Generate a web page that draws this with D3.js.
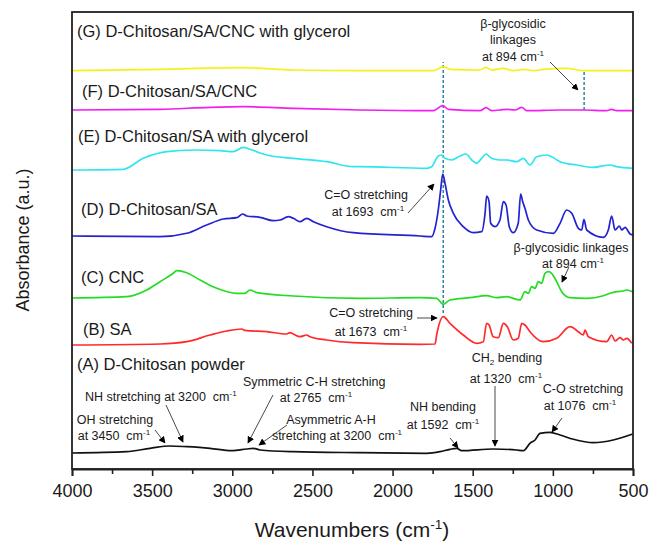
<!DOCTYPE html>
<html>
<head>
<meta charset="utf-8">
<script src="https://cdn.jsdelivr.net/npm/d3@7"></script>
<style>
  body { margin: 0; background: #fff; }
  text { font-family: "Liberation Sans", Arial, sans-serif; fill: #1a1a1a; white-space: pre; }
</style>
</head>
<body>
<div id="chart"></div>
<script>
// series, bottom to top
const seriesNames = ['(A) D-Chitosan powder', '(B) SA', '(C) CNC', '(D) D-Chitosan/SA',
  '(E) D-Chitosan/SA with glycerol', '(F) D-Chitosan/SA/CNC', '(G) D-Chitosan/SA/CNC with glycerol'];
const seriesOffsets = [16, 124, 171, 233, 299, 359, 398];

// [wavenumber, absorbance] pairs (a.u., relative to each offset)
const spectrumA = [[4000,0],[3659,1.3],[3513,4.7],[3389,7],[3284,6.3],[3139,4.7],[3004,2.3],[2910,4],[2869,4.7],
  [2827,3],[2621,1.3],[2203,0.3],[1787,-0.3],[1704,1.3],[1642,3.7],[1600,4.7],[1569,2.3],[1372,4],[1226,3],
  [1184,2.3],[1143,9.7],[1111,13],[1080,19.7],[1018,20.7],[955,18],[872,13.7],[748,10.3],[623,13],[502,19]];
const spectrumB = [[4000,0],[3451,1],[3284,3.3],[3139,10],[3035,14],[2941,16],[2921,14.7],[2785,13.3],[2661,11],
  [2640,12.3],[2619,11],[2578,8.3],[2536,10],[2515,8.3],[2411,5],[2245,2.3],[1829,0.7],[1735,1],[1725,10],
  [1684,28.3],[1642,21.7],[1559,10],[1475,1.7],[1434,3.3],[1413,21.7],[1398,20],[1372,8.3],[1340,7.3],
  [1309,21.7],[1284,18.3],[1247,5],[1216,6.7],[1194,21.7],[1174,20],[1143,13.3],[1060,3.3],[976,6.7],
  [893,18.3],[841,13.3],[810,10],[799,15],[779,8.3],[664,3.3],[633,10],[612,4],[581,7.3],[560,5],[539,6.7],[508,1.7]];
const spectrumC = [[4000,0],[3659,1.3],[3534,8],[3451,16.3],[3368,24.7],[3347,27.3],[3284,25.3],[3201,18],
  [3097,9.7],[2972,4.7],[2921,4.7],[2890,8],[2848,5.3],[2619,2],[2203,-0.3],[1829,0.3],[1725,-0.3],[1684,-6.3],
  [1642,-2],[1517,0.3],[1413,2.3],[1350,0.3],[1288,1.3],[1205,-2],[1174,6.3],[1153,4.7],[1132,11.3],[1111,9.7],
  [1091,16.3],[1070,14.7],[1049,24.7],[1028,26.3],[1008,24.7],[976,16.3],[945,6.3],[893,0.3],[789,-0.3],
  [685,2.3],[643,4.7],[602,6.3],[560,7],[539,8],[498,5.7]];
const spectrumD = [[4000,0],[3451,-0.7],[3284,2.7],[3160,11],[3056,17],[2972,18.3],[2935,22],[2910,20],[2827,18.7],
  [2744,15.3],[2702,16],[2651,19.3],[2619,17.7],[2578,14.3],[2536,17.7],[2494,14.3],[2411,9.3],[2245,3.3],
  [1829,0],[1756,-0.7],[1735,7.7],[1715,26],[1700,46],[1687,62],[1673,52.7],[1652,36],[1621,22.7],[1559,9.3],
  [1497,3.3],[1444,4.3],[1423,22.7],[1413,40],[1398,34.3],[1388,12.7],[1361,9.3],[1330,16],[1309,34.3],
  [1292,31],[1272,9.3],[1247,3.3],[1216,12.7],[1201,42],[1188,34.3],[1174,27.7],[1153,16],[1101,6],[997,2.7],
  [955,12.7],[914,26],[882,22.7],[841,7.7],[820,6],[806,16.7],[789,6],[685,-1.3],[654,6],[633,20],[612,6],
  [585,10],[570,6],[549,8.7],[518,2],[498,1]];
const spectrumE = [[4000,0],[3680,0.7],[3555,11.7],[3409,18.3],[3243,20],[3077,19.3],[2994,18.3],[2931,22.7],
  [2890,20.7],[2785,15],[2619,11.7],[2411,8.3],[2245,3.3],[2203,3.3],[1787,1.7],[1756,3.3],[1715,14],[1694,15],
  [1673,11.7],[1631,10],[1579,14],[1542,16],[1506,10],[1475,6.7],[1444,11.7],[1417,16],[1382,11.7],[1330,10],
  [1288,10],[1226,8.3],[1184,11.7],[1143,5],[1101,13.3],[1039,15],[1008,13.3],[955,8.3],[851,5],[748,2.7],
  [643,5],[602,3.3],[502,1.7]];
const spectrumF = [[4000,0],[3451,0.7],[3139,2.7],[2931,3.3],[2619,1.7],[2203,0],[1746,-0.7],[1687,4.3],
  [1652,0.7],[1455,-0.7],[1417,2.3],[1382,-0.7],[1330,0],[1288,0.7],[1236,0],[1194,2.7],[1163,-0.7],[955,0],
  [806,0],[664,-0.7],[633,0.7],[602,-0.7],[502,-0.7]];
const spectrumG = [[4000,0.3],[3451,1.7],[2931,3.3],[2619,1],[2203,0.3],[1746,0.3],[1681,4.3],[1642,1.7],
  [1455,1],[1417,3.7],[1382,1],[1309,2.7],[1247,0.3],[1184,1.7],[1122,0.3],[1060,1.7],[914,2.7],[806,0.3],[502,0.3]];
const spectra = [spectrumA, spectrumB, spectrumC, spectrumD, spectrumE, spectrumF, spectrumG];
const seriesColors = ['#111111', '#ff2a2a', '#22dd22', '#2323d0', '#2ee6ee', '#f01ef0', '#f2f21a'];

const majorTicks = [4000, 3500, 3000, 2500, 2000, 1500, 1000, 500];
const minorTicks = [3750, 3250, 2750, 2250, 1750, 1250, 750];

// dashed guide lines: wavenumber, from / to absorbance
const guideLines = [[1684, 156, 407], [805, 359, 397]];

const width = 649, height = 542;
const margin = {top: 12, right: 16, bottom: 73, left: 72};

const svg = d3.select('#chart').append('svg')
  .attr('width', width).attr('height', height);

svg.append('defs').append('marker')
  .attr('id', 'arrow').attr('viewBox', '0 0 10 10')
  .attr('refX', 9).attr('refY', 5)
  .attr('markerWidth', 7).attr('markerHeight', 7)
  .attr('markerUnits', 'userSpaceOnUse')
  .attr('orient', 'auto')
  .append('path').attr('d', 'M0,0 L10,5 L0,10 z').attr('fill', '#000');

const x = d3.scaleLinear().domain([4000, 500]).range([margin.left, width - margin.right]);
const y = d3.scaleLinear().domain([0, 457]).range([height - margin.bottom, margin.top]);

const line = d3.line()
  .x(d => x(d[0]))
  .y(d => y(d[1]))
  .curve(d3.curveMonotoneX);

const plot = svg.append('g');

guideLines.forEach(g => {
  plot.append('line')
    .attr('x1', x(g[0])).attr('x2', x(g[0]))
    .attr('y1', y(g[1])).attr('y2', y(g[2]))
    .attr('stroke', '#1b7d9c').attr('stroke-width', 1.4)
    .attr('stroke-dasharray', '3,2');
});

spectra.forEach((s, i) => {
  plot.append('path')
    .datum(s.map(p => [p[0], p[1] + seriesOffsets[i]]))
    .attr('d', line)
    .attr('fill', 'none')
    .attr('stroke', seriesColors[i])
    .attr('stroke-width', 1.7)
    .attr('stroke-linejoin', 'round');
});

// frame
svg.append('rect')
  .attr('x', margin.left).attr('y', margin.top)
  .attr('width', width - margin.left - margin.right)
  .attr('height', height - margin.top - margin.bottom)
  .attr('fill', 'none').attr('stroke', '#222').attr('stroke-width', 1.8);

const xAxis = svg.append('g')
  .attr('transform', `translate(0, ${height - margin.bottom})`)
  .call(d3.axisBottom(x).tickValues(majorTicks).tickSize(7).tickPadding(8).tickFormat(d3.format('d')));
xAxis.select('.domain').attr('stroke', '#222').attr('stroke-width', 1.8);
xAxis.selectAll('.tick line').attr('stroke', '#222').attr('stroke-width', 1.6);
xAxis.selectAll('.tick text').attr('font-size', 18).attr('font-family', '"Liberation Sans", Arial, sans-serif').attr('fill', '#111');

const xMinor = svg.append('g')
  .attr('transform', `translate(0, ${height - margin.bottom})`)
  .call(d3.axisBottom(x).tickValues(minorTicks).tickSize(5).tickFormat(''));
xMinor.select('.domain').remove();
xMinor.selectAll('.tick line').attr('stroke', '#222').attr('stroke-width', 1.6);

// text helper: "^-1" -> superscript, "_2" -> subscript
function richText(g, str, tx, ty, size, anchor) {
  const t = g.append('text').attr('x', tx).attr('y', ty)
    .attr('font-size', size).attr('text-anchor', anchor || 'start');
  let shift = 0;
  str.split(/(\^-1|_2)/).filter(p => p).forEach(part => {
    if (part === '^-1') {
      t.append('tspan').attr('dy', -size * 0.4).attr('font-size', size * 0.65).text('-1');
      shift = size * 0.4;
    } else if (part === '_2') {
      t.append('tspan').attr('dy', size * 0.25).attr('font-size', size * 0.65).text('2');
      shift = -size * 0.25;
    } else {
      t.append('tspan').attr('dy', shift).text(part);
      shift = 0;
    }
  });
  return t;
}

const labelPos = [[77, 370], [83, 335], [81, 283], [81, 215], [78, 142], [82, 97], [77, 37]];
seriesNames.forEach((n, i) => richText(svg, n, labelPos[i][0], labelPos[i][1], 16.5));

const notes = [
  ['\u03b2-glycosidic', 513, 28, 'middle'], ['linkages', 513, 44, 'middle'], ['at 894 cm^-1', 513, 61, 'middle'],
  ['C=O stretching', 366, 199, 'middle'], ['at 1693  cm^-1', 368, 216, 'middle'],
  ['\u03b2-glycosidic linkages', 571, 252, 'middle'], ['at 894 cm^-1', 573, 268, 'middle'],
  ['C=O stretching', 371, 317, 'middle'], ['at 1673  cm^-1', 371, 336, 'middle'],
  ['CH_2 bending', 507, 362, 'middle'], ['at 1320  cm^-1', 506, 383, 'middle'],
  ['C-O stretching', 583, 393, 'middle'], ['at 1076  cm^-1', 580, 410, 'middle'],
  ['NH bending', 443, 411, 'middle'], ['at 1592  cm^-1', 443, 429, 'middle'],
  ['NH stretching at 3200  cm^-1', 85, 401, 'start'],
  ['Symmetric C-H stretching', 243, 386, 'start'], ['at 2765  cm^-1', 316, 402, 'middle'],
  ['Asymmetric A-H', 331, 424, 'middle'], ['stretching at 3200  cm^-1', 337, 440, 'middle'],
  ['OH stretching', 115, 424, 'middle'], ['at 3450  cm^-1', 114, 440, 'middle']
];
notes.forEach(n => richText(svg, n[0], n[1], n[2], 12.5, n[3]));

const arrows = [
  [550, 62, 578, 90], [408, 213, 434, 184], [569, 267, 562, 282], [417, 318, 437, 318],
  [495, 386, 495, 446], [562, 418, 552, 432], [450, 438, 458, 448], [166, 405, 183, 442],
  [273, 395, 248, 443], [287, 425, 259, 445], [155, 430, 165, 443]
];
arrows.forEach(a => {
  svg.append('line')
    .attr('x1', a[0]).attr('y1', a[1]).attr('x2', a[2]).attr('y2', a[3])
    .attr('stroke', '#333').attr('stroke-width', 0.9)
    .attr('marker-end', 'url(#arrow)');
});

richText(svg, 'Wavenumbers (cm^-1)', 352, 537, 21, 'middle');

svg.append('text')
  .attr('transform', 'translate(29, 240) rotate(-90)')
  .attr('text-anchor', 'middle').attr('font-size', 18)
  .text('Absorbance (a.u.)');
</script>
</body>
</html>
